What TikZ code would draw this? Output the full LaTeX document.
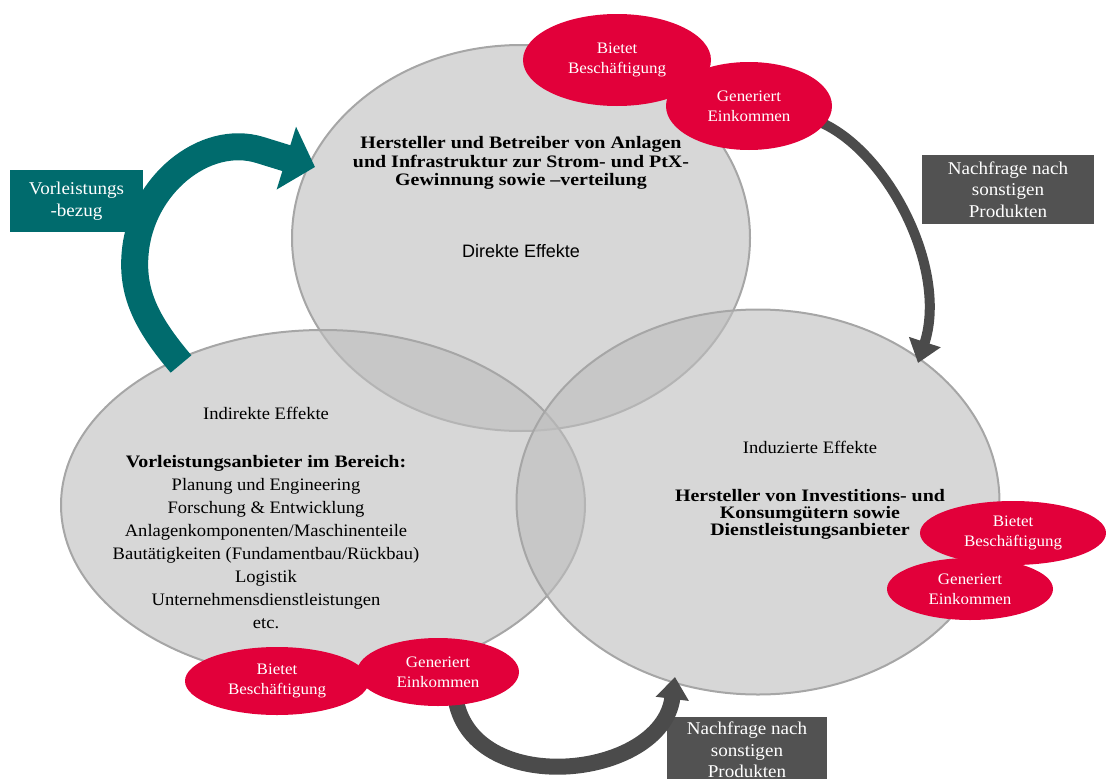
\documentclass[tikz,border=0pt]{standalone}
\usepackage{fontspec}
\setmainfont{Liberation Serif}[FakeStretch=1.06, BoldFeatures={FakeStretch=1.14}]
\newfontfamily\sansfont{Liberation Sans}
\usetikzlibrary{shapes.geometric, arrows.meta, positioning}

\definecolor{effgray}{RGB}{190,190,190}
\definecolor{rimgray}{RGB}{166,166,166}
\definecolor{badgered}{RGB}{226,0,58}
\definecolor{tealbox}{RGB}{0,107,109}
\definecolor{darkbox}{RGB}{82,82,82}
\definecolor{arrowgray}{RGB}{75,75,75}

\begin{document}
\begin{tikzpicture}[x=1pt, y=-1pt,
  effekt/.style={ellipse, draw=rimgray, line width=2pt, fill=effgray, fill opacity=0.62, inner sep=0pt},
  badge/.style={ellipse, fill=badgered, text=white, inner sep=0pt, align=center, font=\fontsize{16}{20}\selectfont},
  infobox/.style={rectangle, text=white, inner sep=0pt, align=center, font=\fontsize{18}{21.5}\selectfont},
  body/.style={align=center, font=\fontsize{17.5}{23}\selectfont},
  tealflow/.style={draw=tealbox, line width=27pt, -{Triangle[length=30pt, width=64pt]}},
  grayflow/.style={draw=arrowgray, line width=#1, -{Triangle[length=22pt, width=32pt]}}]

\useasboundingbox (0,0) rectangle (1106,779);

\node[effekt, minimum width=458pt, minimum height=386pt] (direkt) at (521,238) {};
\node[effekt, minimum width=524pt, minimum height=350pt] (indirekt) at (323,505) {};
\node[effekt, minimum width=483pt, minimum height=385pt] (induziert) at (758,502) {};

\node[infobox, fill=tealbox, minimum width=133pt, minimum height=62pt] (bezug) at (76.5,201) {Vorleistungs\\-bezug};
\node[infobox, fill=darkbox, minimum width=172pt, minimum height=69pt] (nachfrageOben) at (1008,189.5) {Nachfrage nach\\sonstigen\\Produkten};
\node[infobox, fill=darkbox, minimum width=160pt, minimum height=66pt] (nachfrageUnten) at (747,750) {Nachfrage nach\\sonstigen\\Produkten};

\coordinate (bezugStart) at (181,364);
\coordinate (bezugEnd) at (315,167);
\coordinate (obenStart) at (805,117);
\coordinate (obenEnd) at (918,363);
\coordinate (untenStart) at (455,695);
\coordinate (untenEnd) at (675,677);

\draw[tealflow] (bezugStart) .. controls (148,325) and (132,295) .. (135,255) .. controls (140,185) and (205,133) .. (260,150) -- (bezugEnd);
\draw[grayflow=10pt] (obenStart) .. controls (880,135) and (950,265) .. (obenEnd);
\draw[grayflow=16pt] (untenStart) .. controls (468,800) and (662,780) .. (untenEnd);

\node[badge, minimum width=188pt, minimum height=92pt] (obenJob) at (617,60) {Bietet\\Beschäftigung};
\node[badge, minimum width=166pt, minimum height=88pt] (obenIncome) at (749,106) {Generiert\\Einkommen};
\node[badge, minimum width=184pt, minimum height=68pt] (linksJob) at (277,681) {Bietet\\Beschäftigung};
\node[badge, minimum width=162pt, minimum height=68pt] (linksIncome) at (438,672) {Generiert\\Einkommen};
\node[badge, minimum width=186pt, minimum height=64pt] (rechtsJob) at (1013,533) {Bietet\\Beschäftigung};
\node[badge, minimum width=166pt, minimum height=62pt] (rechtsIncome) at (970,589) {Generiert\\Einkommen};

\node[body, font=\bfseries\fontsize{17.5}{18.5}\selectfont] (direktBody) at (521,163) {Hersteller und Betreiber von Anlagen\\und Infrastruktur zur Strom- und PtX-\\Gewinnung sowie –verteilung};
\node[font=\sansfont\fontsize{18}{22}\selectfont] (direktTitle) at (521,251) {Direkte Effekte};

\node[body] (indirektTitle) at (266,413) {Indirekte Effekte};
\node[body] (indirektBody) at (266,542) {\textbf{Vorleistungsanbieter im Bereich:}\\Planung und Engineering\\Forschung \& Entwicklung\\Anlagenkomponenten/Maschinenteile\\Bautätigkeiten (Fundamentbau/Rückbau)\\Logistik\\Unternehmensdienstleistungen\\etc.};

\node[body] (induziertTitle) at (810,447) {Induzierte Effekte};
\node[body, font=\bfseries\fontsize{17.5}{17}\selectfont] (induziertBody) at (810,514) {Hersteller von Investitions- und\\Konsumgütern sowie\\Dienstleistungsanbieter};

\end{tikzpicture}
\end{document}
